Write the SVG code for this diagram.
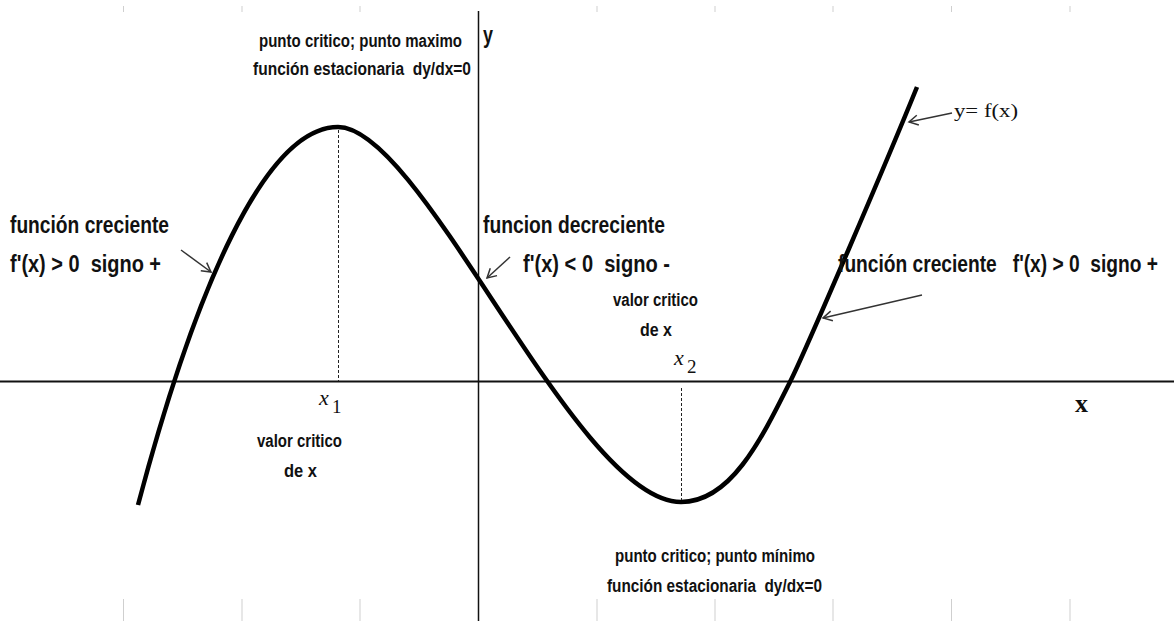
<svg xmlns="http://www.w3.org/2000/svg" width="1174" height="621" viewBox="0 0 1174 621">
<style>
.tick{stroke:#cfcfcf;stroke-width:1}
.axis{stroke:#111;fill:none}
.curve{stroke:#000;stroke-width:4.5;fill:none;stroke-linecap:butt}
.dash{stroke:#222;stroke-width:1;stroke-dasharray:3 2;fill:none}
.arr{stroke:#333;stroke-width:1.5;fill:none;marker-end:url(#ah)}
.t{font-family:"Liberation Sans","DejaVu Sans",sans-serif;fill:#111;font-weight:bold}
.big{font-size:23px}
.sm{font-size:18px}
.m{font-family:"Liberation Serif","DejaVu Serif",serif;fill:#111}
</style>
<defs>
<marker id="ah" markerWidth="12" markerHeight="12" refX="10" refY="5" orient="auto" markerUnits="userSpaceOnUse" overflow="visible">
<path d="M1,0 L10,5 L1,10" fill="none" stroke="#333" stroke-width="1.5"/>
</marker>
</defs>
<rect width="1174" height="621" fill="#fff"/>
<g id="ticks">
<path class="tick" d="M123.5,6V12M242,6V12M360,6V12M597,6V12M715,6V12M833,6V12M951.5,6V12M1070,6V12M123.5,599V621M242,599V621M360,599V621M597,599V621M715,599V621M833,599V621M951.5,599V621M1070,599V621"/>
</g>
<g id="axes">
<line class="axis" x1="0" y1="381.5" x2="1174" y2="381.5" stroke-width="2"/>
<line class="axis" x1="478.5" y1="11" x2="478.5" y2="621" stroke-width="1.5"/>
</g>
<g id="curve">
<path class="curve" d="M138,505 C195,290 265,127 338,127 C423,127 576,502 681,502 C730,502 760,442 790,382 C806,350 887,161 917,87"/>
</g>
<g id="connectors">
<line class="dash" x1="338.5" y1="130" x2="338.5" y2="381"/>
<line class="dash" x1="681.5" y1="388" x2="681.5" y2="500"/>
<line class="arr" x1="181" y1="250" x2="211" y2="272"/>
<line class="arr" x1="510" y1="257" x2="487" y2="278"/>
<line class="arr" x1="922" y1="295" x2="823" y2="318"/>
<line class="arr" x1="952" y1="113" x2="909" y2="122"/>
</g>
<g id="label-max">
<text class="t sm" x="259" y="47" textLength="203" lengthAdjust="spacingAndGlyphs">punto critico; punto maximo</text>
<text class="t sm" x="253" y="75" textLength="218" lengthAdjust="spacingAndGlyphs" xml:space="preserve">función estacionaria  dy/dx=0</text>
</g>
<g id="label-y-axis">
<text class="t" x="483" y="43" font-size="23" textLength="10" lengthAdjust="spacingAndGlyphs">y</text>
</g>
<g id="label-creciente-left">
<text class="t big" x="10" y="233" textLength="159" lengthAdjust="spacingAndGlyphs">función creciente</text>
<text class="t big" x="10" y="272" textLength="151" lengthAdjust="spacingAndGlyphs" xml:space="preserve">f'(x) &gt; 0  signo +</text>
</g>
<g id="label-decreciente">
<text class="t big" x="483" y="233" textLength="182" lengthAdjust="spacingAndGlyphs">funcion decreciente</text>
<text class="t big" x="523" y="272" textLength="147" lengthAdjust="spacingAndGlyphs" xml:space="preserve">f'(x) &lt; 0  signo -</text>
</g>
<g id="label-x2">
<text class="t sm" x="613" y="306" textLength="85" lengthAdjust="spacingAndGlyphs">valor critico</text>
<text class="t sm" x="640" y="336" textLength="32" lengthAdjust="spacingAndGlyphs">de x</text>
<text class="m" x="674" y="365" font-size="22" font-style="italic">x</text>
<text class="m" x="687" y="373" font-size="19">2</text>
</g>
<g id="label-creciente-right">
<text class="t big" x="838" y="272" textLength="320" lengthAdjust="spacingAndGlyphs" xml:space="preserve">función creciente   f'(x) &gt; 0  signo +</text>
</g>
<g id="label-fx">
<text class="m" x="954" y="117" font-size="18" textLength="64" lengthAdjust="spacingAndGlyphs">y= f(x)</text>
</g>
<g id="label-x1">
<text class="m" x="319" y="405" font-size="22" font-style="italic">x</text>
<text class="m" x="332" y="413" font-size="19">1</text>
<text class="t sm" x="257" y="447" textLength="85" lengthAdjust="spacingAndGlyphs">valor critico</text>
<text class="t sm" x="284" y="477" textLength="33" lengthAdjust="spacingAndGlyphs">de x</text>
</g>
<g id="label-x-axis">
<text class="m" x="1075" y="412" font-size="26" font-weight="bold">x</text>
</g>
<g id="label-min">
<text class="t sm" x="615" y="562" textLength="200" lengthAdjust="spacingAndGlyphs">punto critico; punto mínimo</text>
<text class="t sm" x="607" y="592" textLength="215" lengthAdjust="spacingAndGlyphs" xml:space="preserve">función estacionaria  dy/dx=0</text>
</g>
</svg>
